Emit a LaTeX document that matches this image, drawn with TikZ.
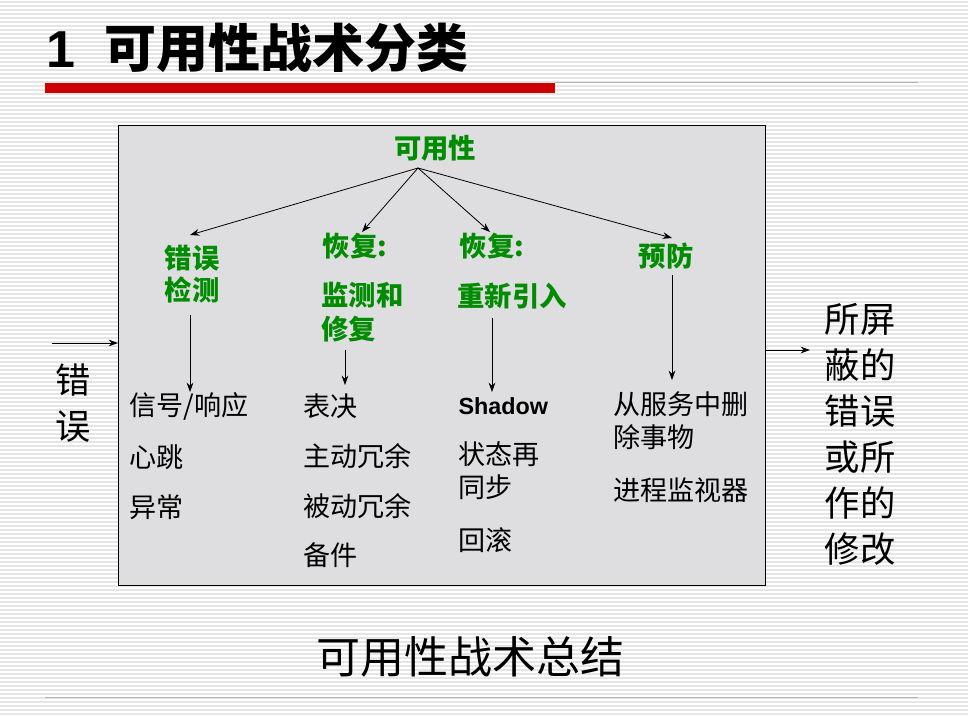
\documentclass[tikz,border=0pt]{standalone}
\usepackage{fontspec}
\usetikzlibrary{arrows.meta}
\setmainfont{Liberation Sans}
\newfontfamily\cjk{Noto Sans CJK SC}
\begin{document}
\begin{tikzpicture}[x=0.75pt,y=-0.75pt,
  grn/.style={text=green!55!black, font=\cjk\fontsize{20.5}{24}\selectfont\bfseries, inner sep=1pt},
  lst/.style={font=\cjk\fontsize{20.3}{24.5}\selectfont, inner sep=1pt, anchor=west},
  side/.style={font=\cjk\fontsize{26.5}{34.5}\selectfont, inner sep=1pt, align=center},
  arr/.style={-{Stealth[length=7pt,width=5pt]}, semithick}]
\useasboundingbox (0,0) rectangle (968,715);
\fill[white] (0,0) rectangle (968,715);
\foreach \y in {2,6,...,714} \draw[black!10, line width=0.8pt] (0,\y) -- (968,\y);
\node[font=\bfseries\fontsize{39}{44}\selectfont, anchor=west, inner sep=0] (title) at (46,48) {1\ \ {\cjk\bfseries 可用性战术分类}};
\fill[red!80!black] (45,83) rectangle (555,93);
\draw[black!30] (555,82) -- (918,82);
\draw[black!30] (45,697) -- (918,697);
\node[draw=black, fill=blue!6!black!13, minimum width=647*0.75pt, minimum height=460*0.75pt, anchor=north west, inner sep=0] (box) at (118,125) {};
\node[grn] (top) at (435,148) {可用性};
\node[grn, align=left] (a) at (192,274) {错误\\检测};
\node[grn] (b1) at (355,246) {恢复:};
\node[grn, align=left, anchor=north west] (b) at (320,281) {监测和\\[1pt]修复};
\node[grn] (c1) at (492,246) {恢复:};
\node[grn] (c) at (512,296) {重新引入};
\node[grn] (d) at (666,256) {预防};
\coordinate (t) at (418,168);
\draw[arr] (t) -- (190,235);
\draw[arr] (t) -- (362,232);
\draw[arr] (t) -- (490,232);
\draw[arr] (t) -- (672,238);
\coordinate (a2) at (190,392); \draw[arr] (190,315) -- (a2);
\coordinate (b2) at (345,385); \draw[arr] (345,350) -- (b2);
\coordinate (c2) at (492,392); \draw[arr] (492,318) -- (c2);
\coordinate (d2) at (672,380); \draw[arr] (672,275) -- (d2);
\node[lst] (l1) at (128,406) {信号/响应};
\node[lst] (l2) at (128,457) {心跳};
\node[lst] (l3) at (128,507) {异常};
\node[lst] (m1) at (302,406) {表决};
\node[lst] (m2) at (302,456) {主动冗余};
\node[lst] (m3) at (302,506) {被动冗余};
\node[lst] (m4) at (302,555) {备件};
\node[lst, font=\bfseries\fontsize{17.5}{21}\selectfont] (n1) at (457,406) {Shadow};
\node[lst, align=left, anchor=north west] (n2) at (457,440) {状态再\\同步};
\node[lst] (n3) at (457,540) {回滚};
\node[lst, align=left, anchor=north west] (o1) at (612,390) {从服务中删\\除事物};
\node[lst] (o2) at (612,490) {进程监视器};
\node[side] (left) at (73,403) {错\\误};
\coordinate (lin) at (52,343);
\draw[arr] (lin) -- (box.west |- lin);
\node[side] (right) at (860,434) {所屏\\蔽的\\错误\\或所\\作的\\修改};
\coordinate (rout) at (810,350);
\draw[arr] (box.east |- rout) -- (rout);
\node[font=\cjk\fontsize{33}{38}\selectfont] (cap) at (470,657) {可用性战术总结};
\end{tikzpicture}
\end{document}
